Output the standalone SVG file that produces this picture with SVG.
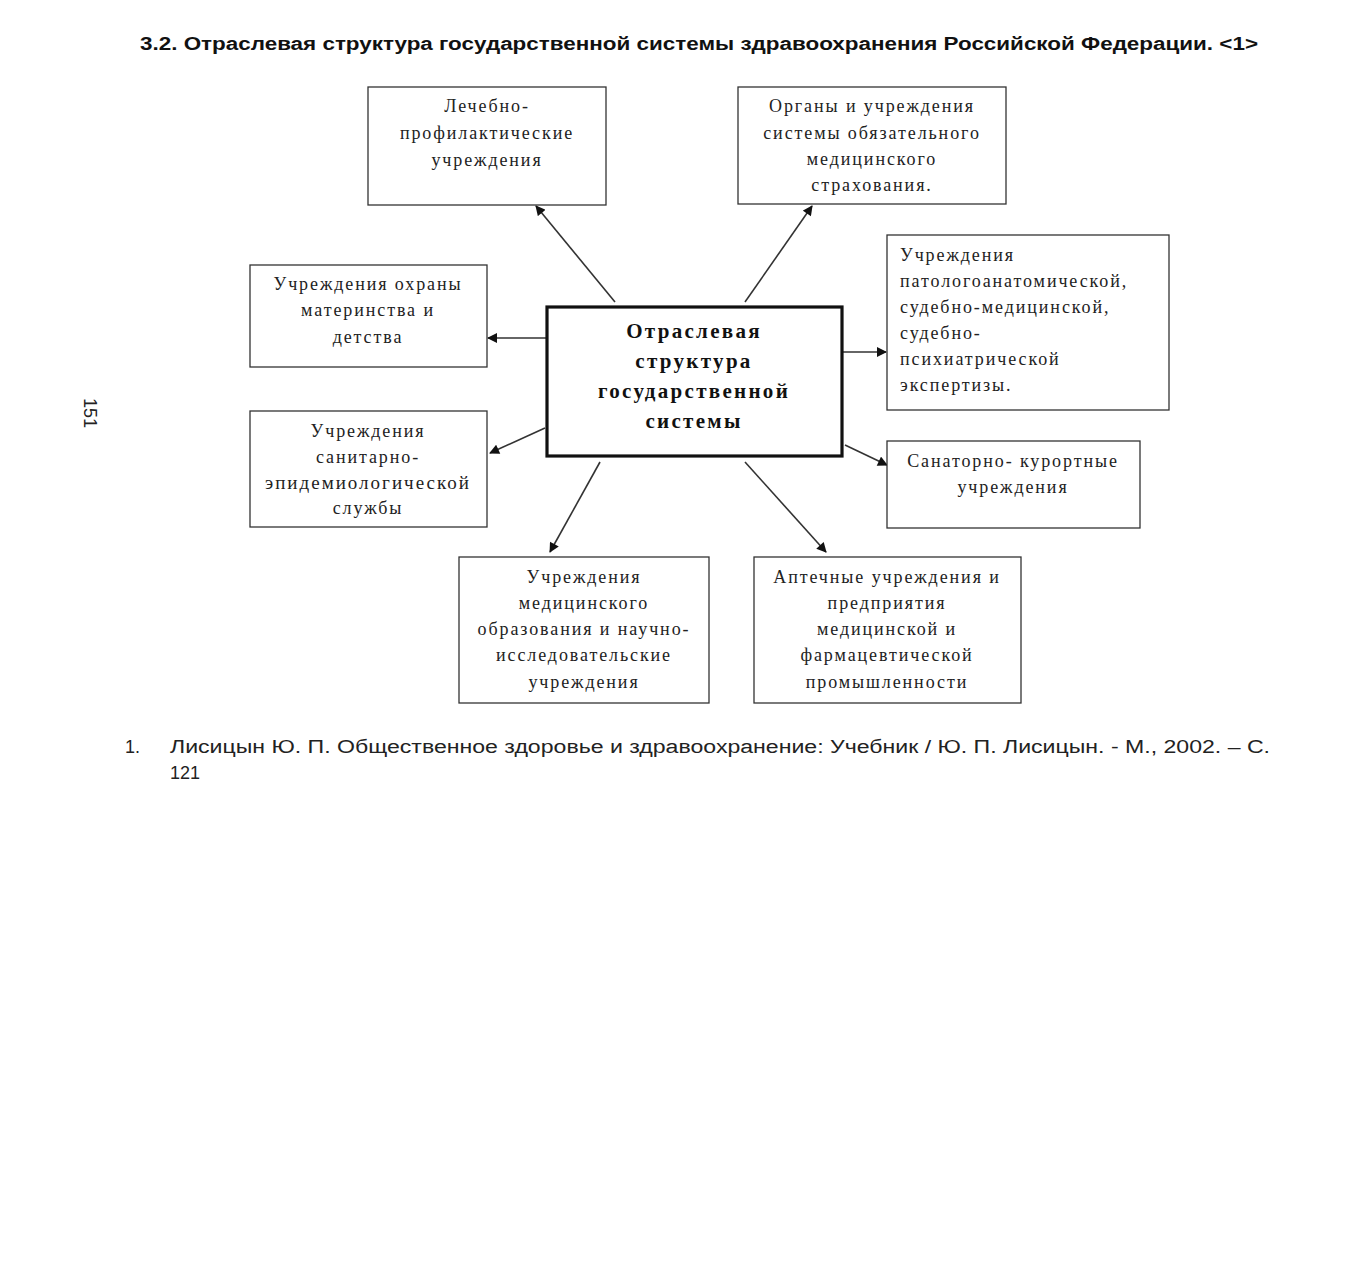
<svg xmlns="http://www.w3.org/2000/svg" width="1350" height="1270" viewBox="0 0 1350 1270">
<style>
.box{fill:#fff;stroke:#333;stroke-width:1.3}
.main{fill:#fff;stroke:#111;stroke-width:3.2}
.t{font-family:"Liberation Serif","DejaVu Serif",serif;font-size:18px;fill:#222;letter-spacing:1.9px}
.c{text-anchor:middle}
.mt{font-family:"Liberation Serif","DejaVu Serif",serif;font-size:21px;font-weight:bold;fill:#111;letter-spacing:2.3px;text-anchor:middle}
.title{font-family:"Liberation Sans","DejaVu Sans",sans-serif;font-size:18px;font-weight:bold;fill:#111}
.fn{font-family:"Liberation Sans","DejaVu Sans",sans-serif;font-size:18px;fill:#222}
.ln{stroke:#333;stroke-width:1.6;fill:none;marker-end:url(#ah)}
</style>
<defs>
<marker id="ah" viewBox="0 0 10 10" refX="9" refY="5" markerWidth="11" markerHeight="10" markerUnits="userSpaceOnUse" orient="auto"><path d="M0,0 L10,5 L0,10 z" fill="#111"/></marker>
</defs>
<rect width="1350" height="1270" fill="#fff"/>
<text class="title" x="140" y="50" textLength="1118" lengthAdjust="spacingAndGlyphs">3.2. Отраслевая структура государственной системы здравоохранения  Российской Федерации. &lt;1&gt;</text>
<text class="fn" x="0" y="0" transform="translate(84,413) rotate(90)" text-anchor="middle">151</text>

<g id="connectors">
<line class="ln" x1="615" y1="302" x2="536" y2="206"/>
<line class="ln" x1="745" y1="302" x2="812" y2="206"/>
<line class="ln" x1="547" y1="338" x2="488" y2="338"/>
<line class="ln" x1="843" y1="352" x2="886" y2="352"/>
<line class="ln" x1="545" y1="428" x2="490" y2="453"/>
<line class="ln" x1="845" y1="445" x2="887" y2="465"/>
<line class="ln" x1="600" y1="462" x2="550" y2="552"/>
<line class="ln" x1="745" y1="462" x2="826" y2="552"/>
</g>

<g id="n1"><rect class="box" x="368" y="87" width="238" height="118"/>
<text class="t c" x="487" y="112">Лечебно-</text>
<text class="t c" x="487" y="139">профилактические</text>
<text class="t c" x="487" y="166">учреждения</text></g>

<g id="n2"><rect class="box" x="738" y="87" width="268" height="117"/>
<text class="t c" x="872" y="112">Органы и учреждения</text>
<text class="t c" x="872" y="139">системы обязательного</text>
<text class="t c" x="872" y="165">медицинского</text>
<text class="t c" x="872" y="191">страхования.</text></g>

<g id="n3"><rect class="box" x="250" y="265" width="237" height="102"/>
<text class="t c" x="368" y="290">Учреждения охраны</text>
<text class="t c" x="368" y="316">материнства и</text>
<text class="t c" x="368" y="343">детства</text></g>

<g id="center"><rect class="main" x="547" y="307" width="295" height="149"/>
<text class="mt" x="694" y="338">Отраслевая</text>
<text class="mt" x="694" y="368">структура</text>
<text class="mt" x="694" y="398">государственной</text>
<text class="mt" x="694" y="428">системы</text></g>

<g id="n4"><rect class="box" x="887" y="235" width="282" height="175"/>
<text class="t" x="900" y="261">Учреждения</text>
<text class="t" x="900" y="287">патологоанатомической,</text>
<text class="t" x="900" y="313">судебно-медицинской,</text>
<text class="t" x="900" y="339">судебно-</text>
<text class="t" x="900" y="365">психиатрической</text>
<text class="t" x="900" y="391">экспертизы.</text></g>

<g id="n5"><rect class="box" x="250" y="411" width="237" height="116"/>
<text class="t c" x="368" y="437">Учреждения</text>
<text class="t c" x="368" y="463">санитарно-</text>
<text class="t c" x="368" y="489" textLength="206" lengthAdjust="spacingAndGlyphs">эпидемиологической</text>
<text class="t c" x="368" y="514">службы</text></g>

<g id="n6"><rect class="box" x="887" y="441" width="253" height="87"/>
<text class="t c" x="1013" y="467">Санаторно- курортные</text>
<text class="t c" x="1013" y="493">учреждения</text></g>

<g id="n7"><rect class="box" x="459" y="557" width="250" height="146"/>
<text class="t c" x="584" y="583">Учреждения</text>
<text class="t c" x="584" y="609">медицинского</text>
<text class="t c" x="584" y="635">образования и научно-</text>
<text class="t c" x="584" y="661">исследовательские</text>
<text class="t c" x="584" y="688">учреждения</text></g>

<g id="n8"><rect class="box" x="754" y="557" width="267" height="146"/>
<text class="t c" x="887" y="583">Аптечные учреждения и</text>
<text class="t c" x="887" y="609">предприятия</text>
<text class="t c" x="887" y="635">медицинской и</text>
<text class="t c" x="887" y="661">фармацевтической</text>
<text class="t c" x="887" y="688">промышленности</text></g>

<text class="fn" x="125" y="753">1.</text>
<text class="fn" x="170" y="753" textLength="1100" lengthAdjust="spacingAndGlyphs">Лисицын Ю. П. Общественное здоровье и здравоохранение: Учебник / Ю. П. Лисицын. - М., 2002. – С.</text>
<text class="fn" x="170" y="779">121</text>
</svg>
